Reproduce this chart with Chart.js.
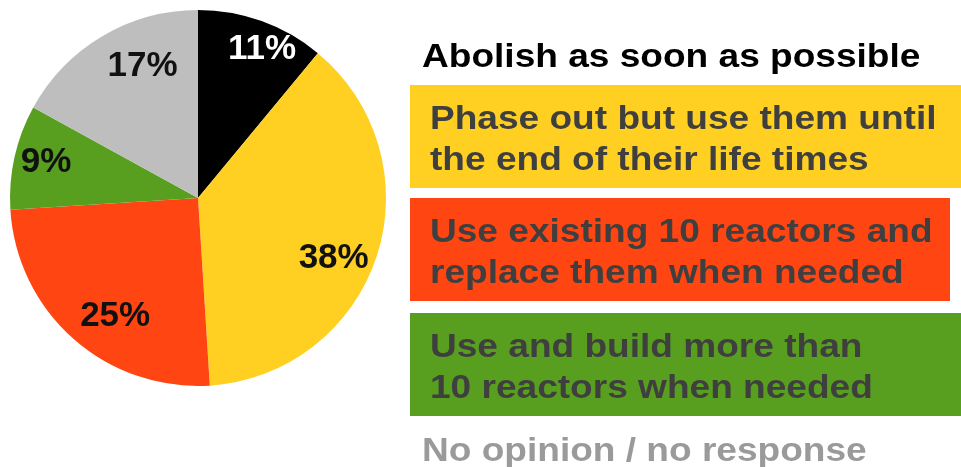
<!DOCTYPE html>
<html>
<head>
<meta charset="utf-8">
<script src="https://cdn.jsdelivr.net/npm/chart.js@4.4.1/dist/chart.umd.min.js"></script>
<style>
  html, body { margin: 0; padding: 0; background: #fff; }
  #wrap { width: 961px; height: 467px; position: relative; }
</style>
</head>
<body>
<div id="wrap"><canvas id="pieChart"></canvas></div>
<script>
// answers (each one split into the lines shown in the legend)
const answers = [
    ['Abolish as soon as possible'],
    ['Phase out but use them until', 'the end of their life times'],
    ['Use existing 10 reactors and', 'replace them when needed'],
    ['Use and build more than', '10 reactors when needed'],
    ['No opinion / no response']
];
const shares = [11, 38, 25, 9, 17];
const sliceColors = ['#000000', '#FFD022', '#FF4612', '#589F1F', '#BEBEBE'];
const pctColors = ['#FFFFFF', '#111111', '#111111', '#111111', '#111111'];

const FONT = '"Liberation Sans", Arial, sans-serif';

// where each percent sits: share of the radius, and a nudge in degrees off the slice middle
const pctRadius = [0.86, 0.79, 0.77, 0.83, 0.76];
const pctNudge = [3.5, 6, -6.5, 0.7, 7.8];

// percent labels inside the slices
const sliceLabels = {
    id: 'sliceLabels',
    afterDatasetsDraw(chart) {
        const ctx = chart.ctx;
        const meta = chart.getDatasetMeta(0);
        ctx.save();
        ctx.font = 'bold 35px ' + FONT;
        ctx.textAlign = 'center';
        ctx.textBaseline = 'middle';
        meta.data.forEach((arc, i) => {
            const p = arc.getProps(['x', 'y', 'startAngle', 'endAngle', 'outerRadius'], true);
            const mid = (p.startAngle + p.endAngle) / 2 + pctNudge[i] * Math.PI / 180;
            const r = p.outerRadius * pctRadius[i];
            ctx.fillStyle = pctColors[i];
            ctx.fillText(shares[i] + '%', p.x + Math.cos(mid) * r, p.y + Math.sin(mid) * r);
        });
        ctx.restore();
    }
};

// legend on the right: coloured bars with the answer text
const answerLegend = {
    id: 'answerLegend',
    afterDraw(chart) {
        const ctx = chart.ctx;
        const boxTop = [null, 85, 198, 313, null];
        const boxRight = [null, 961, 950, 961, null];
        const plainBaseline = [67, null, null, null, 461];
        ctx.save();
        ctx.font = 'bold 34px ' + FONT;
        ctx.textAlign = 'left';
        ctx.textBaseline = 'alphabetic';
        answers.forEach((lines, i) => {
            if (boxTop[i] !== null) {
                ctx.fillStyle = sliceColors[i];
                ctx.fillRect(410, boxTop[i], boxRight[i] - 410, 103);
                ctx.fillStyle = '#3F3F3F';
                lines.forEach((line, j) => {
                    ctx.save();
                    ctx.translate(430, boxTop[i] + 44 + j * 41);
                    ctx.scale(1.09, 1);
                    ctx.fillText(line, 0, 0);
                    ctx.restore();
                });
            } else {
                ctx.fillStyle = i === 0 ? '#000000' : '#9A9A9A';
                ctx.save();
                ctx.translate(422, plainBaseline[i]);
                ctx.scale(1.09, 1);
                ctx.fillText(lines[0], 0, 0);
                ctx.restore();
            }
        });
        ctx.restore();
    }
};

new Chart(document.getElementById('pieChart'), {
    type: 'pie',
    data: {
        labels: answers.map(a => a.join(' ')),
        datasets: [{
            data: shares,
            backgroundColor: sliceColors,
            borderWidth: 0
        }]
    },
    options: {
        responsive: true,
        maintainAspectRatio: false,
        animation: false,
        layout: {
            padding: { left: 10, top: 10, right: 575, bottom: 81 }
        },
        plugins: {
            legend: { display: false },
            tooltip: { enabled: false }
        }
    },
    plugins: [sliceLabels, answerLegend]
});
</script>
</body>
</html>
